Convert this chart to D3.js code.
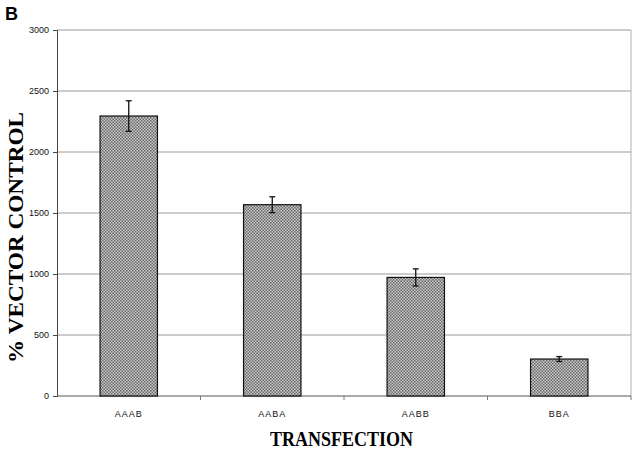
<!DOCTYPE html>
<html>
<head>
<meta charset="utf-8">
<script src="https://cdn.jsdelivr.net/npm/d3@7"></script>
<style>
  body { margin: 0; background: #fff; }
  svg { display: block; }
</style>
</head>
<body>
<svg id="chart" width="641" height="452"></svg>
<script>
// data
const categories = ['AAAB', 'AABA', 'AABB', 'BBA'];
const values = [2295, 1568, 972, 303];
const errors = [125, 65, 70, 20];
const yTicks = [0, 500, 1000, 1500, 2000, 2500, 3000];

const width = 641, height = 452;
const margin = { top: 30, right: 10, bottom: 56, left: 57 };
const innerW = width - margin.left - margin.right;
const innerH = height - margin.top - margin.bottom;

const svg = d3.select('#chart');

// halftone-ish grey fill
const defs = svg.append('defs');
const pat = defs.append('pattern')
  .attr('id', 'dots')
  .attr('width', 3).attr('height', 3)
  .attr('patternUnits', 'userSpaceOnUse');
pat.append('rect').attr('width', 3).attr('height', 3).attr('fill', '#c8c8c8');
pat.append('rect').attr('width', 1.5).attr('height', 1.5).attr('fill', '#6a6a6a');
pat.append('rect').attr('x', 1.5).attr('y', 1.5).attr('width', 1.5).attr('height', 1.5).attr('fill', '#6a6a6a');

const g = svg.append('g')
  .attr('transform', `translate(${margin.left},${margin.top})`);

const x = d3.scaleBand()
  .domain(categories)
  .range([0, innerW])
  .paddingInner(0.6)
  .paddingOuter(0.3);

const y = d3.scaleLinear()
  .domain([0, 3000])
  .range([innerH, 0]);

// gridlines
g.append('g')
  .selectAll('line')
  .data(yTicks.filter(d => d > 0))
  .join('line')
  .attr('x1', 0).attr('x2', innerW)
  .attr('y1', d => y(d)).attr('y2', d => y(d))
  .attr('stroke', '#9a9a9a')
  .attr('stroke-width', 1);

// right border of plot area
g.append('line')
  .attr('x1', innerW).attr('x2', innerW)
  .attr('y1', 0).attr('y2', innerH)
  .attr('stroke', '#b0b0b0');

// y axis
const yAxis = g.append('g')
  .call(d3.axisLeft(y).tickValues(yTicks).tickFormat(d3.format('d')).tickSize(4).tickPadding(4));
yAxis.select('.domain').attr('stroke', '#444');
yAxis.selectAll('.tick line').attr('stroke', '#444');
yAxis.selectAll('text')
  .style('font-family', 'Liberation Sans, Arial, sans-serif')
  .style('font-size', '9px')
  .attr('fill', '#111');

// x axis with ticks on category boundaries
const xAxis = g.append('g')
  .attr('transform', `translate(0,${innerH})`);
xAxis.append('line')
  .attr('x1', 0).attr('x2', innerW)
  .attr('stroke', '#555');
const step = innerW / categories.length;
xAxis.selectAll('.bnd')
  .data(d3.range(1, categories.length + 1))
  .join('line')
  .attr('x1', d => d * step).attr('x2', d => d * step)
  .attr('y1', 0).attr('y2', 4)
  .attr('stroke', '#777');
xAxis.selectAll('text')
  .data(categories)
  .join('text')
  .attr('x', d => x(d) + x.bandwidth() / 2)
  .attr('y', 21)
  .attr('text-anchor', 'middle')
  .style('font-family', 'Liberation Sans, Arial, sans-serif')
  .style('font-size', '9px')
  .style('letter-spacing', '1px')
  .attr('fill', '#111')
  .text(d => d);

// bars
g.selectAll('.bar')
  .data(categories)
  .join('rect')
  .attr('class', 'bar')
  .attr('x', d => x(d))
  .attr('y', (d, i) => y(values[i]))
  .attr('width', x.bandwidth())
  .attr('height', (d, i) => innerH - y(values[i]))
  .attr('fill', 'url(#dots)')
  .attr('stroke', '#111')
  .attr('stroke-width', 1.2);

// error bars
const eb = g.selectAll('.err')
  .data(categories)
  .join('g')
  .attr('class', 'err')
  .attr('stroke', '#111')
  .attr('stroke-width', 1.3);
eb.append('line')
  .attr('x1', d => x(d) + x.bandwidth() / 2)
  .attr('x2', d => x(d) + x.bandwidth() / 2)
  .attr('y1', (d, i) => y(values[i] + errors[i]))
  .attr('y2', (d, i) => y(values[i] - errors[i]));
[1, -1].forEach(s => {
  eb.append('line')
    .attr('x1', d => x(d) + x.bandwidth() / 2 - 3)
    .attr('x2', d => x(d) + x.bandwidth() / 2 + 3)
    .attr('y1', (d, i) => y(values[i] + s * errors[i]))
    .attr('y2', (d, i) => y(values[i] + s * errors[i]));
});

// axis titles (condensed bold serif)
svg.append('text')
  .attr('x', 270)
  .attr('y', 446)
  .attr('textLength', 143)
  .attr('lengthAdjust', 'spacingAndGlyphs')
  .style('font-family', 'Liberation Serif, Times New Roman, serif')
  .style('font-weight', 'bold')
  .style('font-size', '20px')
  .text('TRANSFECTION');

svg.append('text')
  .attr('transform', 'translate(23,363) rotate(-90)')
  .attr('textLength', 251)
  .attr('lengthAdjust', 'spacingAndGlyphs')
  .style('font-family', 'Liberation Serif, Times New Roman, serif')
  .style('font-weight', 'bold')
  .style('font-size', '21px')
  .text('% VECTOR CONTROL');

// panel letter
svg.append('text')
  .attr('x', 5).attr('y', 20)
  .style('font-family', 'Liberation Sans, Arial, sans-serif')
  .style('font-weight', 'bold')
  .style('font-size', '18px')
  .text('B');
</script>
</body>
</html>
